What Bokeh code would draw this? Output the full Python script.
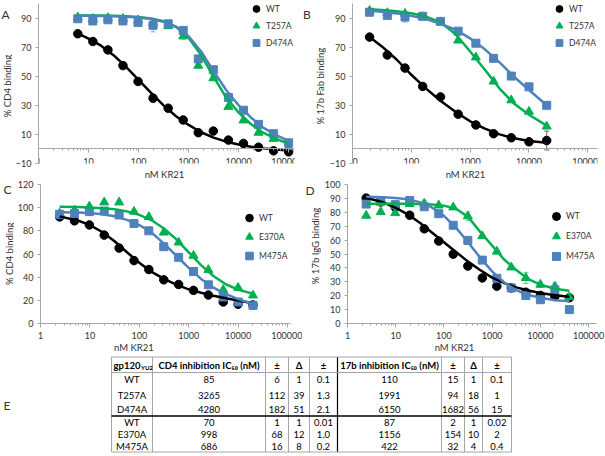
import math
from bokeh.plotting import figure
from bokeh.models import (Range1d, FixedTicker, NumeralTickFormatter, Legend, LegendItem,
                          Whisker, TeeHead, ColumnDataSource, AllLabels)
from bokeh.layouts import column, row
from bokeh.embed import file_html
from bokeh.resources import INLINE
from bokeh.core.properties import value

# ---------------- data ----------------
# Panel A : % CD4 binding
a_conc = [6.1, 12.2, 24.4, 48.8, 97.7, 195, 391, 781, 1563, 3125, 6250, 12500, 25000, 50000, 100000]
a_wt = [79.2, 73.9, 68.1, 57.3, 46.4, 34.9, 28.0, 19.9, 11.2, 12.3, 6.1, 3.8, 1.2, -1.3, -2.0]
a_t257a = [90.5, 89.5, 90.0, 89.5, 88.5, 86.5, 84.5, 77.5, 57.3, 48.7, 29.0, 19.7, 11.2, 7.0, 1.2]
a_d474a = [89.5, 88.0, 88.8, 88.0, 87.0, 85.0, 86.0, 81.5, 61.9, 54.5, 35.4, 26.6, 16.9, 10.5, 4.2]
a_wt_err = [0, 0, 0, 0, 0, 2.5, 0, 0, 0, 0, 0, 0, 0, 0, 0]
a_t257a_err = [0, 0, 0, 0, 0, 0, 0, 2.0, 0, 0, 0, 0, 0, 0, 0]
a_d474a_err = [0, 0, 0, 0, 0, 4.5, 0, 0, 0, 0, 0, 0, 0, 0, 0]
a_fit_x = [6.1, 10, 17.8, 31.6, 56.2, 100, 178, 316, 562, 1000, 1778, 3162, 5623, 10000, 17783, 31623, 56234, 100000]
a_wt_fit = [79.5, 75.8, 71.0, 64.5, 56.5, 47.5, 38.5, 30.0, 22.5, 16.5, 11.5, 7.8, 5.0, 3.0, 1.5, 0.4, -0.4, -1.0]
a_t257a_fit = [91.8, 91.8, 91.7, 91.5, 91.2, 90.7, 89.7, 87.8, 84.0, 76.5, 64.5, 49.5, 35.5, 25.0, 17.0, 11.0, 7.0, 3.5]
a_d474a_fit = [91.5, 91.5, 91.4, 91.2, 90.9, 90.4, 89.4, 87.5, 84.0, 77.5, 67.0, 53.5, 40.5, 30.0, 21.5, 14.5, 9.5, 5.5]

# Panel B : % 17b Fab binding
b_conc = [19.5, 39.1, 78.1, 156, 313, 625, 1250, 2500, 5000, 10000, 20000]
b_wt = [76.9, 64.6, 55.6, 43.0, 35.8, 23.9, 16.5, 10.5, 7.7, 4.9, 5.8]
b_t257a = [95.0, 93.5, 93.0, 90.7, 87.2, 74.6, 63.0, 46.4, 33.5, 25.7, 15.5]
b_d474a = [94.0, 91.8, 90.7, 91.2, 87.7, 81.0, 72.7, 62.3, 50.1, 42.7, 30.0]
b_wt_err = [0, 0, 0, 0, 0, 0, 0, 0, 0, 0, 6.5]
b_t257a_err = [0, 1.5, 0, 0, 0, 0, 0, 0, 0, 0, 0]
b_d474a_err = [0, 0, 3.5, 0, 0, 0, 0, 0, 0, 0, 0]
b_fit_x = [19.5, 31.6, 56.2, 100, 178, 316, 562, 1000, 1778, 3162, 5623, 10000, 20000]
b_wt_fit = [77.0, 70.5, 61.5, 51.0, 41.5, 33.0, 25.5, 19.0, 14.0, 10.0, 7.3, 5.5, 4.2]
b_t257a_fit = [96.0, 95.5, 94.7, 93.3, 91.0, 87.0, 79.0, 67.0, 54.5, 41.5, 31.0, 23.5, 16.0]
b_d474a_fit = [95.0, 94.3, 93.2, 91.5, 89.3, 86.0, 82.0, 76.0, 68.5, 59.5, 49.5, 40.5, 30.0]

# Panel C : % CD4 binding
c_conc = [2.44, 4.88, 9.77, 19.5, 39.1, 78.1, 156, 313, 625, 1250, 2500, 5000, 10000, 20000]
c_wt = [92.0, 88.6, 85.1, 76.3, 65.1, 54.3, 46.6, 37.7, 33.7, 28.6, 24.6, 18.6, 16.6, 16.0]
c_e370a = [95.0, 97.7, 101.0, 104.6, 104.6, 96.6, 92.0, 78.6, 70.0, 58.6, 46.3, 29.1, 30.9, 24.3]
c_m475a = [94.3, 94.9, 96.6, 97.1, 93.7, 86.3, 80.0, 66.3, 57.1, 44.9, 33.4, 22.9, 18.6, 15.7]
c_fit_x = [2.44, 5.62, 10, 17.8, 31.6, 56.2, 100, 178, 316, 562, 1000, 1778, 3162, 5623, 10000, 20000]
c_wt_fit = [92.5, 89.0, 85.0, 79.0, 71.0, 61.5, 52.5, 44.5, 38.5, 33.5, 29.5, 26.5, 24.0, 21.8, 19.8, 17.5]
c_e370a_fit = [100.8, 100.6, 100.2, 99.6, 98.6, 96.8, 93.8, 89.1, 82.0, 72.6, 61.5, 50.4, 41.0, 33.9, 29.2, 25.8]
c_m475a_fit = [96.0, 95.8, 95.3, 94.3, 92.5, 89.5, 85.0, 78.5, 69.0, 58.5, 48.0, 38.5, 31.0, 25.5, 21.0, 17.0]

# Panel D : % 17b IgG binding
d_conc = [2.44, 4.88, 9.77, 19.5, 39.1, 78.1, 156, 313, 625, 1250, 2500, 5000, 10000, 20000, 40000]
d_wt = [90.2, 87.4, 83.6, 77.9, 68.1, 59.3, 49.9, 41.3, 32.8, 26.8, 25.6, 22.5, 20.2, 19.5, 18.5]
d_e370a = [77.6, 80.2, 79.5, 86.0, 86.2, 85.0, 83.6, 77.2, 62.9, 51.8, 40.4, 32.8, 28.0, 26.6, 19.0]
d_m475a = [85.9, 87.8, 85.5, 88.5, 84.0, 79.0, 70.7, 59.8, 45.6, 32.5, 25.6, 20.2, 17.1, 24.2, 10.0]
d_e370a_err = [0, 0, 0, 0, 2.5, 0, 0, 3.0, 0, 0, 0, 4.0, 2.0, 2.5, 0]
d_fit_x = [2.44, 5.62, 10, 17.8, 31.6, 56.2, 100, 178, 316, 562, 1000, 1778, 3162, 5623, 10000, 20000, 40000]
d_wt_fit = [90.5, 87.0, 83.2, 78.5, 72.5, 65.5, 58.5, 51.5, 44.5, 38.5, 33.0, 29.0, 26.0, 23.7, 22.0, 20.3, 19.2]
d_e370a_fit = [86.2, 86.2, 86.1, 86.1, 85.9, 85.6, 84.8, 82.5, 76.7, 66.0, 56.0, 46.0, 38.5, 32.0, 28.0, 25.0, 23.5]
d_m475a_fit = [91.2, 90.8, 90.3, 89.3, 87.3, 83.5, 77.5, 69.0, 58.5, 47.5, 37.5, 29.5, 24.0, 20.5, 18.5, 16.8, 16.0]

# Panel E : table
tbl_header = ["gp120", "CD4 inhibition IC\u2085\u2080 (nM)", "\u00b1", "\u0394", "\u00b1",
              "17b inhibition IC\u2085\u2080 (nM)", "\u00b1", "\u0394", "\u00b1"]
tbl_variant = ["WT", "T257A", "D474A", "WT", "E370A", "M475A"]
tbl_cd4_ic50 = ["85", "3265", "4280", "70", "998", "686"]
tbl_cd4_pm = ["6", "112", "182", "1", "68", "16"]
tbl_cd4_delta = ["1", "39", "51", "1", "12", "8"]
tbl_cd4_dpm = ["0.1", "1.3", "2.1", "0.01", "1.0", "0.2"]
tbl_17b_ic50 = ["110", "1991", "6150", "87", "1156", "422"]
tbl_17b_pm = ["15", "94", "1682", "2", "154", "32"]
tbl_17b_delta = ["1", "18", "56", "1", "10", "4"]
tbl_17b_dpm = ["0.1", "1", "15", "0.02", "2", "0.4"]

# ---------------- styling ----------------
FONT = "Lato"
BLACK = "#000000"
GREEN = "#00B050"
BLUE = "#4F81BD"
AXIS = "#A6A6A6"
TXT = "#333333"


def log_ticks(e0, e1):
    major = [10 ** k for k in range(e0, e1 + 1)]
    minor = [m * 10 ** k for k in range(e0, e1 + 1) for m in range(2, 10)]
    return major, minor


def strip(width, height, texts):
    """A plain figure (no axes) that only holds text: letters and axis titles."""
    s = figure(width=width, height=height, x_range=Range1d(0, width), y_range=Range1d(0, height),
               output_backend="svg", toolbar_location=None, min_border=0,
               x_axis_location=None, y_axis_location=None)
    s.outline_line_color = None
    s.grid.visible = False
    for (x, y, txt, size, angle, align) in texts:
        s.text(x=[x], y=[y], text=[txt], angle=angle, text_align=align, text_baseline="middle",
               text_font=value(FONT), text_font_size=size, text_color=TXT)
    return s


def make_panel(width, height, borders, xr, yr, yticks, e0, e1, zero_axis, label_standoff,
               conc, fit_x, series, legend_loc, item_h):
    left, right, top, bottom = borders
    p = figure(width=width, height=height, x_axis_type="log",
               x_range=Range1d(*xr), y_range=Range1d(*yr),
               output_backend="svg", toolbar_location=None,
               min_border_left=left, min_border_right=right,
               min_border_top=top, min_border_bottom=bottom)
    p.outline_line_color = None
    p.grid.visible = False

    major, minor = log_ticks(e0, e1)
    xa = p.xaxis[0]
    xa.ticker = FixedTicker(ticks=major, minor_ticks=minor)
    xa.formatter = NumeralTickFormatter(format="0")
    xa.major_label_policy = AllLabels()
    xa.axis_line_color = AXIS
    xa.major_tick_line_color = AXIS
    xa.minor_tick_line_color = AXIS
    xa.major_tick_in = 0
    xa.major_tick_out = 4
    xa.minor_tick_in = 0
    xa.minor_tick_out = 2
    xa.major_label_standoff = label_standoff
    xa.major_label_text_font = FONT
    xa.major_label_text_font_size = "9px"
    xa.major_label_text_color = TXT
    if zero_axis:
        xa.fixed_location = 0

    ya = p.yaxis[0]
    ya.ticker = FixedTicker(ticks=yticks, minor_ticks=[])
    ya.major_label_policy = AllLabels()
    ya.axis_line_color = AXIS
    ya.major_tick_line_color = AXIS
    ya.major_tick_in = 0
    ya.major_tick_out = 3
    ya.minor_tick_out = 0
    ya.major_label_standoff = 4
    ya.major_label_text_font = FONT
    ya.major_label_text_font_size = "9px"
    ya.major_label_text_color = TXT

    items = []
    for s in series:
        r = p.scatter(conc, s["y"], marker=s["marker"], size=s["size"],
                      fill_color=s["color"], line_color=s["color"])
        items.append(LegendItem(label=s["name"], renderers=[r]))
        err = s.get("err")
        if err:
            idx = [i for i, e in enumerate(err) if e > 0]
            if idx:
                src = ColumnDataSource(dict(
                    x=[conc[i] for i in idx],
                    lo=[s["y"][i] - err[i] for i in idx],
                    hi=[s["y"][i] + err[i] for i in idx]))
                p.add_layout(Whisker(source=src, base="x", lower="lo", upper="hi",
                                     line_color=s["color"], line_width=1, line_alpha=0.6,
                                     upper_head=TeeHead(size=5, line_color=s["color"], line_alpha=0.6),
                                     lower_head=TeeHead(size=5, line_color=s["color"], line_alpha=0.6)))
    for s in series:
        p.line(fit_x, s["fit"], line_color=s["color"], line_width=2.5, line_join="round")

    legend = Legend(items=items, location=legend_loc, orientation="vertical",
                    glyph_width=20, glyph_height=item_h, label_height=item_h, label_width=20,
                    spacing=0, padding=0, margin=0, label_standoff=-5,
                    border_line_color=None, background_fill_alpha=0,
                    label_text_font=FONT, label_text_font_size="8.5px", label_text_color=TXT)
    p.add_layout(legend)
    return p


HALF_PI = math.pi / 2

# ---- row 1 (A, B) : page y 0..168 ----
sa = strip(12, 168, [(1, 156, "A", "12px", 0, "left"),
                     (6.5, 81.3, "% CD4 binding", "9.5px", HALF_PI, "center")])
pa = make_panel(290, 168, (22, 8, 3, 5), (1, 1.31e5), (-10, 100), [-10, 10, 30, 50, 70, 90],
                0, 5, True, 5, a_conc, a_fit_x,
                [dict(name="WT", y=a_wt, err=a_wt_err, fit=a_wt_fit, color=BLACK, marker="circle", size=8.5),
                 dict(name="T257A", y=a_t257a, err=a_t257a_err, fit=a_t257a_fit, color=GREEN, marker="triangle", size=9),
                 dict(name="D474A", y=a_d474a, err=a_d474a_err, fit=a_d474a_fit, color=BLUE, marker="square", size=8)],
                (208, 112), 17)
sb = strip(24, 168, [(0.5, 156, "B", "12px", 0, "left"),
                     (18, 81.3, "% 17b Fab binding", "9.5px", HALF_PI, "center")])
pb = make_panel(279, 168, (19, 8, 3, 5), (10, 1.46e5), (-10, 100), [-10, 10, 30, 50, 70, 90],
                1, 5, True, 5, b_conc, b_fit_x,
                [dict(name="WT", y=b_wt, err=b_wt_err, fit=b_wt_fit, color=BLACK, marker="circle", size=8.5),
                 dict(name="T257A", y=b_t257a, err=b_t257a_err, fit=b_t257a_fit, color=GREEN, marker="triangle", size=9),
                 dict(name="D474A", y=b_d474a, err=b_d474a_err, fit=b_d474a_fit, color=BLUE, marker="square", size=8)],
                (197, 112), 17)

# ---- x-axis titles of A and B : page y 168..180 ----
mid = strip(605, 12, [(164, 6.3, "nM KR21", "9.5px", 0, "center"),
                      (465, 6.3, "nM KR21", "9.5px", 0, "center")])

# ---- row 2 (C, D) : page y 180..342 ----
sc = strip(14, 162, [(3, 156.5, "C", "12px", 0, "left"),
                     (8.5, 81.2, "% CD4 binding", "9.5px", HALF_PI, "center")])
pc = make_panel(288, 162, (23, 12, 3, 19), (1, 1.15e5), (0, 120), [0, 20, 40, 60, 80, 100, 120],
                0, 5, False, 4, c_conc, c_fit_x,
                [dict(name="WT", y=c_wt, err=None, fit=c_wt_fit, color=BLACK, marker="circle", size=8.5),
                 dict(name="E370A", y=c_e370a, err=None, fit=c_e370a_fit, color=GREEN, marker="triangle", size=9),
                 dict(name="M475A", y=c_m475a, err=None, fit=c_m475a_fit, color=BLUE, marker="square", size=8)],
                (199, 58), 19)
sd = strip(19, 162, [(3, 154.5, "D", "12px", 0, "left"),
                     (13, 90.3, "% 17b IgG binding", "9.5px", HALF_PI, "center")])
pd_ = make_panel(284, 162, (23, 9, 4, 19), (1, 1.46e5), (0, 100), list(range(0, 101, 10)),
                 0, 5, False, 4, d_conc, d_fit_x,
                 [dict(name="WT", y=d_wt, err=None, fit=d_wt_fit, color=BLACK, marker="circle", size=8.5),
                  dict(name="E370A", y=d_e370a, err=d_e370a_err, fit=d_e370a_fit, color=GREEN, marker="triangle", size=9),
                  dict(name="M475A", y=d_m475a, err=None, fit=d_m475a_fit, color=BLUE, marker="square", size=8)],
                 (199, 57), 20)

# ---- row 3: x titles of C, D + table (panel E) : page y 342..456 ----
pt = figure(width=605, height=114, x_range=Range1d(0, 605), y_range=Range1d(456, 342),
            output_backend="svg", toolbar_location=None, min_border=0,
            x_axis_location=None, y_axis_location=None)
pt.outline_line_color = None
pt.grid.visible = False

pt.text(x=[133.3, 454], y=[347, 347], text=["nM KR21", "nM KR21"], text_align="center",
        text_baseline="middle", text_font=value(FONT), text_font_size="9.5px", text_color=TXT)
pt.text(x=[3], y=[405], text=["E"], text_align="left", text_baseline="middle",
        text_font=value(FONT), text_font_size="12px", text_color=TXT)

col_edges = [111, 152, 265, 288, 309, 337, 441, 464, 482, 511]
top_y, head_y, sep_y, bot_y = 356.5, 372, 415.5, 451.5
header_mid = 364.5
row_mid = [379, 395, 408.5, 421.5, 434, 446]
centers = [(col_edges[i] + col_edges[i + 1]) / 2 for i in range(len(col_edges) - 1)]
GRID = "#A6A6A6"

gray_edges = [x for x in col_edges if x != 337]
pt.segment(x0=gray_edges, y0=[top_y] * len(gray_edges), x1=gray_edges, y1=[bot_y] * len(gray_edges),
           line_color=GRID, line_width=1)
pt.segment(x0=[337], y0=[top_y], x1=[337], y1=[bot_y], line_color="#000000", line_width=1.2)
pt.segment(x0=[col_edges[0]] * 3, y0=[top_y, head_y, bot_y], x1=[col_edges[-1]] * 3,
           y1=[top_y, head_y, bot_y], line_color=GRID, line_width=1)
pt.segment(x0=[col_edges[0]], y0=[sep_y], x1=[col_edges[-1]], y1=[sep_y],
           line_color="#000000", line_width=1.3)

pt.text(x=centers[1:], y=[header_mid] * 8, text=tbl_header[1:], text_align="center",
        text_baseline="middle", text_font=value(FONT), text_font_size="9.5px",
        text_font_style="bold", text_color="#000000")
pt.text(x=[140], y=[header_mid], text=[tbl_header[0]], text_align="right",
        text_baseline="middle", text_font=value(FONT), text_font_size="9.5px",
        text_font_style="bold", text_color="#000000")
pt.text(x=[140.5], y=[header_mid + 2], text=["YU2"], text_align="left",
        text_baseline="middle", text_font=value(FONT), text_font_size="6px",
        text_font_style="bold", text_color="#000000")

body_cols = [tbl_variant, tbl_cd4_ic50, tbl_cd4_pm, tbl_cd4_delta, tbl_cd4_dpm,
             tbl_17b_ic50, tbl_17b_pm, tbl_17b_delta, tbl_17b_dpm]
for cx, col in zip(centers, body_cols):
    pt.text(x=[cx] * len(col), y=row_mid, text=col, text_align="center",
            text_baseline="middle", text_font=value(FONT), text_font_size="9.5px",
            text_color="#000000")

layout = column(row(sa, pa, sb, pb), mid, row(sc, pc, sd, pd_), pt)
open("out.html", "w").write(file_html(layout, INLINE, title="KR21 binding"))
